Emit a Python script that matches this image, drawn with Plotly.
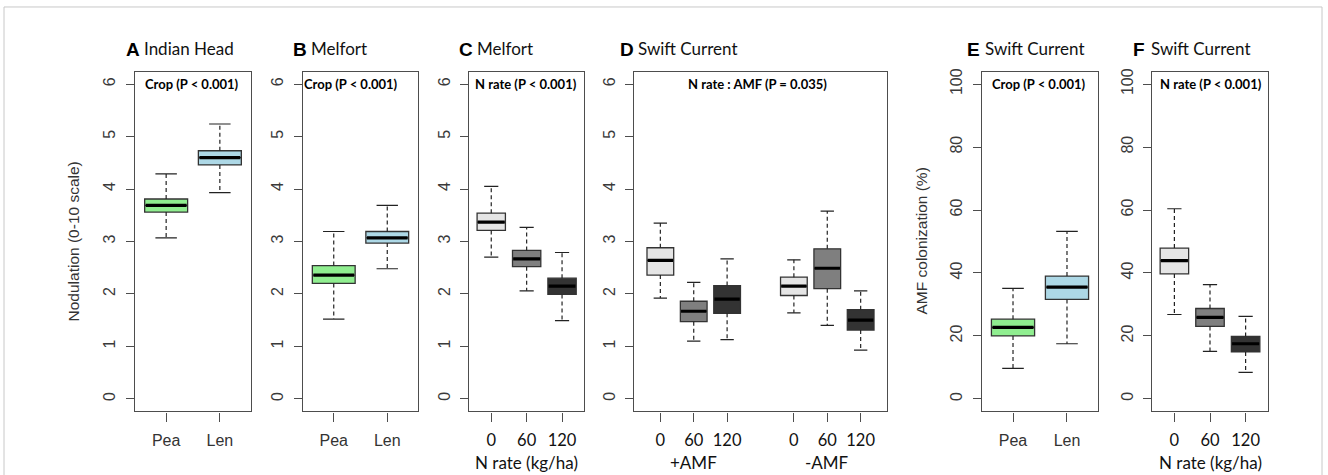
import plotly.graph_objects as go

W, H = 1328, 475

# ---------------- data ----------------
# Panel A: Indian Head, nodulation by crop
A_labels = ["Pea", "Len"]
A_low = [3.07, 3.93]
A_q1 = [3.56, 4.46]
A_med = [3.69, 4.60]
A_q3 = [3.81, 4.73]
A_high = [4.29, 5.24]

# Panel B: Melfort, nodulation by crop
B_labels = ["Pea", "Len"]
B_low = [1.52, 2.48]
B_q1 = [2.20, 2.97]
B_med = [2.36, 3.07]
B_q3 = [2.54, 3.19]
B_high = [3.19, 3.69]

# Panel C: Melfort, nodulation by N rate
C_labels = ["0", "60", "120"]
C_low = [2.70, 2.06, 1.49]
C_q1 = [3.21, 2.52, 1.99]
C_med = [3.37, 2.67, 2.15]
C_q3 = [3.54, 2.83, 2.30]
C_high = [4.05, 3.27, 2.79]

# Panel D: Swift Current, nodulation by N rate x AMF
D_labels = ["0", "60", "120", "0", "60", "120"]
D_groups = ["+AMF", "-AMF"]
D_low = [1.92, 1.10, 1.13, 1.64, 1.40, 0.93]
D_q1 = [2.36, 1.47, 1.63, 1.97, 2.10, 1.31]
D_med = [2.64, 1.67, 1.90, 2.15, 2.49, 1.50]
D_q3 = [2.88, 1.86, 2.16, 2.32, 2.86, 1.70]
D_high = [3.35, 2.22, 2.67, 2.65, 3.58, 2.06]

# Panel E: Swift Current, AMF colonization by crop
E_labels = ["Pea", "Len"]
E_low = [9.7, 17.5]
E_q1 = [20.0, 31.6]
E_med = [22.7, 35.5]
E_q3 = [25.3, 39.0]
E_high = [35.1, 53.2]

# Panel F: Swift Current, AMF colonization by N rate
F_labels = ["0", "60", "120"]
F_low = [26.8, 15.1, 8.4]
F_q1 = [39.7, 23.0, 14.9]
F_med = [43.9, 25.9, 17.5]
F_q3 = [47.9, 28.7, 19.8]
F_high = [60.4, 36.3, 26.2]

crop_colors = ["#90EE90", "#ADD8E6"]
nrate_colors = ["#E5E5E5", "#7F7F7F", "#333333"]

# ---------------- helpers ----------------
def px(x):
    return x / W

def py(y):
    return 1 - y / H

BOX_LINE = "#333333"
AXIS_COL = "#4d4d4d"
fig = go.Figure()

ARIAL = "Liberation Sans, Arial"
panels = [
    dict(labels=A_labels, pos=[1, 2], low=A_low, q1=A_q1, med=A_med, q3=A_q3, high=A_high,
         colors=crop_colors, dom=(135, 251), xr=[0.42, 2.58], yr=[-0.24, 6.24], yt=list(range(0, 7)),
         ticklab_font=dict(family=ARIAL, size=16, color="#333333"),
         letter="A", title="Indian Head", tx=124, note="Crop (P < 0.001)", note_x=192),
    dict(labels=B_labels, pos=[1, 2], low=B_low, q1=B_q1, med=B_med, q3=B_q3, high=B_high,
         colors=crop_colors, dom=(302.7, 418.3), xr=[0.42, 2.58], yr=[-0.24, 6.24], yt=list(range(0, 7)),
         ticklab_font=dict(family=ARIAL, size=16, color="#333333"),
         letter="B", title="Melfort", tx=291, note="Crop (P < 0.001)", note_x=351),
    dict(labels=C_labels, pos=[1, 2, 3], low=C_low, q1=C_q1, med=C_med, q3=C_q3, high=C_high,
         colors=nrate_colors, dom=(469.3, 584), xr=[0.38, 3.62], yr=[-0.24, 6.24], yt=list(range(0, 7)),
         ticklab_font=dict(family="Lato", size=16.5, color="#111111"),
         letter="C", title="Melfort", tx=457, note="N rate (P < 0.001)", note_x=526),
    dict(labels=D_labels, pos=[1, 2, 3, 5, 6, 7], low=D_low, q1=D_q1, med=D_med, q3=D_q3, high=D_high,
         colors=nrate_colors * 2, dom=(634.3, 886.7), xr=[0.22, 7.78], yr=[-0.24, 6.24], yt=list(range(0, 7)),
         ticklab_font=dict(family="Lato", size=16.5, color="#111111"),
         letter="D", title="Swift Current", tx=618, note="N rate : AMF (P = 0.035)", note_x=757),
    dict(labels=E_labels, pos=[1, 2], low=E_low, q1=E_q1, med=E_med, q3=E_q3, high=E_high,
         colors=crop_colors, dom=(981.7, 1098.3), xr=[0.42, 2.58], yr=[-4, 104], yt=list(range(0, 101, 20)),
         ticklab_font=dict(family=ARIAL, size=16, color="#333333"),
         letter="E", title="Swift Current", tx=965, note="Crop (P < 0.001)", note_x=1039),
    dict(labels=F_labels, pos=[1, 2, 3], low=F_low, q1=F_q1, med=F_med, q3=F_q3, high=F_high,
         colors=nrate_colors, dom=(1152.3, 1267.7), xr=[0.38, 3.62], yr=[-4, 104], yt=list(range(0, 101, 20)),
         ticklab_font=dict(family="Lato", size=16.5, color="#111111"),
         letter="F", title="Swift Current", tx=1131, note="N rate (P < 0.001)", note_x=1211),
]

PLOT_TOP, PLOT_BOT = 69, 411
BOX_HALF = 0.4
CAP_HALF = 0.2

annotations = []
for i, p in enumerate(panels, start=1):
    xa = "x" if i == 1 else f"x{i}"
    ya = "y" if i == 1 else f"y{i}"
    for k, pos in enumerate(p["pos"]):
        # box body
        fig.add_trace(go.Box(
            x=[pos], q1=[p["q1"][k]], median=[p["med"][k]], q3=[p["q3"][k]],
            lowerfence=[p["q1"][k]], upperfence=[p["q3"][k]],
            width=2 * BOX_HALF, fillcolor=p["colors"][k],
            line=dict(color=BOX_LINE, width=1.3), whiskerwidth=0,
            boxpoints=False, showlegend=False, hoverinfo="skip",
            xaxis=xa, yaxis=ya))
        # dashed whiskers
        fig.add_trace(go.Scatter(
            x=[pos, pos, None, pos, pos],
            y=[p["q3"][k], p["high"][k], None, p["q1"][k], p["low"][k]],
            mode="lines", line=dict(color="#222222", width=1.2, dash="4px,3px"),
            showlegend=False, hoverinfo="skip", xaxis=xa, yaxis=ya))
        # whisker caps
        fig.add_trace(go.Scatter(
            x=[pos - CAP_HALF, pos + CAP_HALF, None, pos - CAP_HALF, pos + CAP_HALF],
            y=[p["high"][k], p["high"][k], None, p["low"][k], p["low"][k]],
            mode="lines", line=dict(color="#222222", width=1.2),
            showlegend=False, hoverinfo="skip", xaxis=xa, yaxis=ya))
        # thick median
        fig.add_trace(go.Scatter(
            x=[pos - BOX_HALF + 0.02, pos + BOX_HALF - 0.02],
            y=[p["med"][k], p["med"][k]],
            mode="lines", line=dict(color="#000000", width=3.2),
            showlegend=False, hoverinfo="skip", xaxis=xa, yaxis=ya))

    axkey_x = "xaxis" if i == 1 else f"xaxis{i}"
    axkey_y = "yaxis" if i == 1 else f"yaxis{i}"
    fig.layout[axkey_x] = dict(
        domain=[px(p["dom"][0]), px(p["dom"][1])], range=p["xr"], anchor=ya,
        tickvals=p["pos"], ticktext=p["labels"], ticks="outside", ticklen=9,
        tickwidth=1.2, tickcolor=AXIS_COL, showline=True, linecolor=AXIS_COL, linewidth=1.3,
        mirror=True, showgrid=False, zeroline=False, tickfont=p["ticklab_font"],
        ticklabelstandoff=5, fixedrange=True)
    fig.layout[axkey_y] = dict(
        domain=[py(PLOT_BOT), py(PLOT_TOP)], range=p["yr"], anchor=xa,
        tickvals=p["yt"], ticks="outside", ticklen=8, tickwidth=1.2, tickcolor=AXIS_COL,
        showline=True, linecolor=AXIS_COL, linewidth=1.3, mirror=True, showgrid=False,
        zeroline=False, tickangle=-90, ticklabelstandoff=4,
        tickfont=dict(family=ARIAL, size=16, color="#3a3a3a"), fixedrange=True)

    # panel title: bold letter + site name
    annotations.append(dict(
        xref="paper", yref="paper", x=px(p["tx"]), y=py(47), xanchor="left", yanchor="middle",
        text=f"<b>{p['letter']}</b>", showarrow=False,
        font=dict(family=ARIAL, size=19, color="#000000")))
    annotations.append(dict(
        xref="paper", yref="paper", x=px(p["tx"] + 18), y=py(46), xanchor="left", yanchor="middle",
        text=p["title"], showarrow=False,
        font=dict(family="Lato", size=17, color="#111111")))
    # statistics note inside the panel
    annotations.append(dict(
        xref="paper", yref="paper", x=px(p["note_x"]), y=py(81.5), xanchor="center", yanchor="middle",
        text=f"<b>{p['note']}</b>", showarrow=False,
        font=dict(family="Lato", size=13, color="#000000")))

# x-axis titles
for ax in ["x3", "x6"]:
    annotations.append(dict(
        xref=f"{ax} domain", yref="paper", x=0.5, y=py(462), xanchor="center", yanchor="middle",
        text="N rate (kg/ha)", showarrow=False, font=dict(family="Lato", size=17, color="#111111")))
for gx, g in zip([2, 6], D_groups):
    annotations.append(dict(
        xref="x4", yref="paper", x=gx, y=py(462), xanchor="center", yanchor="middle",
        text=g, showarrow=False, font=dict(family="Lato", size=17, color="#111111")))

# y-axis titles
annotations.append(dict(
    xref="paper", yref="paper", x=px(73), y=py(240), xanchor="center", yanchor="middle",
    text="Nodulation (0-10 scale)", textangle=-90, showarrow=False,
    font=dict(family=ARIAL, size=15.5, color="#333333")))
annotations.append(dict(
    xref="paper", yref="paper", x=px(921), y=py(240), xanchor="center", yanchor="middle",
    text="AMF colonization (%)", textangle=-90, showarrow=False,
    font=dict(family=ARIAL, size=15.5, color="#333333")))

fig.update_layout(
    width=W, height=H, margin=dict(l=0, r=0, t=0, b=0),
    paper_bgcolor="white", plot_bgcolor="white", showlegend=False,
    annotations=annotations,
    shapes=[dict(type="rect", xref="paper", yref="paper", x0=px(4), x1=px(1322),
                 y0=-0.05, y1=py(4), line=dict(color="#c8c8c8", width=1), layer="below")],
)

fig.write_html("out.html", config={"displayModeBar": False})
